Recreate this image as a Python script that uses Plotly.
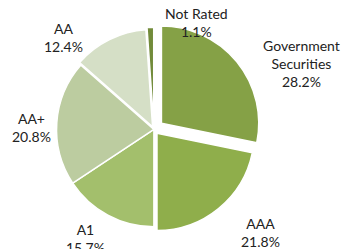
import plotly.graph_objects as go

categories = ["Government Securities", "AAA", "A1", "AA+", "AA", "Not Rated"]
display_names = ["Government<br>Securities", "AAA", "A1", "AA+", "AA", "Not Rated"]
values = [28.2, 21.8, 15.7, 20.8, 12.4, 1.1]
colors = ["#85a146", "#8fae4b", "#a3bf6c", "#bccca0", "#d5dfc6", "#728b3a"]
pulls = [0.10, 0.05, 0.0, 0.0, 0.03, 0.05]

# label anchor positions (paper fractions) for each category's outside label
label_x = [0.870, 0.750, 0.245, 0.092, 0.182, 0.565]
label_y = [0.743, 0.067, 0.044, 0.486, 0.851, 0.910]

fig = go.Figure(go.Pie(
    labels=categories,
    values=values,
    sort=False,
    direction="clockwise",
    rotation=0,
    pull=pulls,
    marker=dict(colors=colors, line=dict(color="white", width=1.5)),
    textinfo="none",
    hoverinfo="label+percent",
    showlegend=False,
    domain=dict(x=[0.134, 0.753], y=[0.05, 0.91]),
))

total = sum(values)
for name, v, x, y in zip(display_names, values, label_x, label_y):
    fig.add_annotation(
        x=x, y=y, xref="paper", yref="paper",
        text=f"{name}<br>{v / total * 100:.1f}%",
        showarrow=False, xanchor="center", yanchor="middle",
        font=dict(family="Lato", size=14, color="#222222"),
    )

fig.update_layout(
    width=347, height=249,
    margin=dict(l=0, r=0, t=0, b=0),
    paper_bgcolor="white",
    plot_bgcolor="white",
)

fig.write_html(
    "out.html",
    config={"displayModeBar": False},
    post_script="document.body.style.margin='0';document.body.style.overflow='hidden';",
)
